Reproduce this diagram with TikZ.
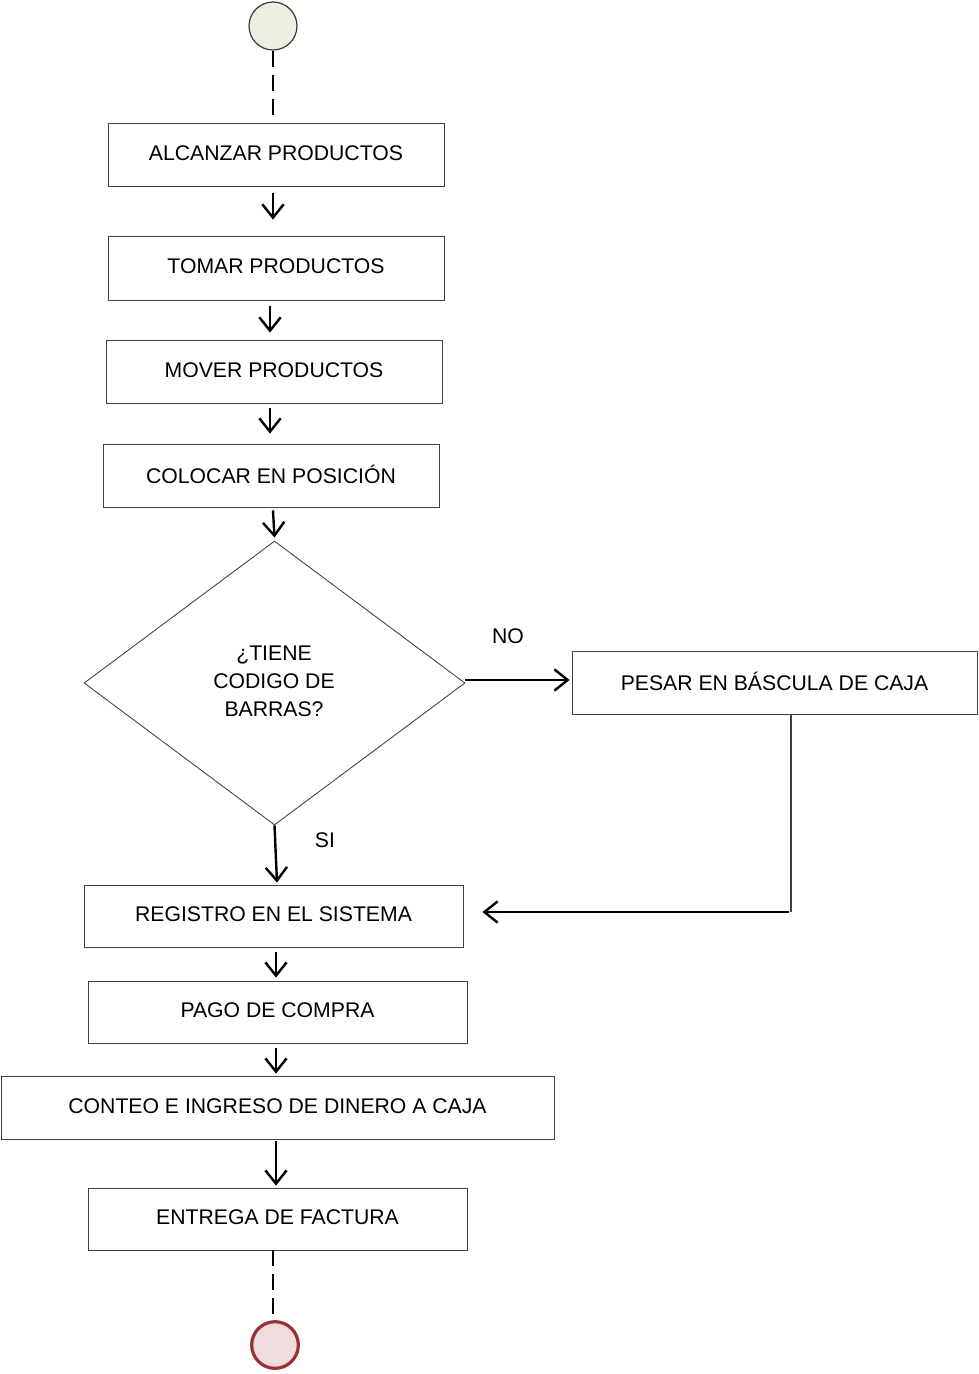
\documentclass[tikz,border=0pt]{standalone}
\usepackage{fontspec}
\setmainfont{Liberation Sans}
\usetikzlibrary{arrows.meta,shapes.geometric}
\definecolor{startfill}{HTML}{EBEFDF}
\definecolor{startline}{HTML}{3A3A3A}
\definecolor{endfill}{HTML}{F0DCDC}
\definecolor{endline}{HTML}{993333}
\definecolor{boxline}{HTML}{404040}
\tikzset{
  stepbox/.style={draw=boxline, line width=0.65pt, rectangle, inner sep=0pt,
    text depth=2.5pt, font=\fontsize{15.9}{21}\selectfont, align=center},
  decision/.style={draw=boxline, line width=0.65pt, diamond, inner sep=0pt,
    font=\fontsize{15.9}{21}\selectfont, align=center},
  arr/.style={draw=black, line width=1.8pt,
    -{Straight Barb[length=10pt,width=16pt,line width=1.8pt]}},
  thinline/.style={draw=boxline, line width=0.9pt},
  dashline/.style={draw=black, line width=1.3pt, dash pattern=on 12pt off 6pt},
  lbl/.style={font=\fontsize{15.9}{21}\selectfont, inner sep=0pt},
}
\begin{document}
\begin{tikzpicture}[x=0.75pt, y=-0.75pt]
  \useasboundingbox (0,0) rectangle (978,1374);

  % start and end states
  \node[circle, draw=startline, line width=0.9pt, fill=startfill,
        minimum size=36pt, inner sep=0pt] (start) at (273,26) {};
  \node[circle, draw=endline, line width=2.4pt, fill=endfill,
        minimum size=35pt, inner sep=0pt] (stop) at (275,1345) {};

  % activities
  \node[stepbox, minimum width=252pt, minimum height=47.25pt] (b1) at (276,154.5) {ALCANZAR PRODUCTOS};
  \node[stepbox, minimum width=252pt, minimum height=48pt]    (b2) at (276,268) {TOMAR PRODUCTOS};
  \node[stepbox, minimum width=252pt, minimum height=47.25pt] (b3) at (274,371.5) {MOVER PRODUCTOS};
  \node[stepbox, minimum width=252pt, minimum height=47.25pt] (b4) at (271,475.5) {COLOCAR EN POSICIÓN};
  \node[decision, minimum width=285.75pt, minimum height=213pt] (dec) at (274.5,683) {};
  \node[lbl, align=center] (dectext) at (274,681) {¿TIENE\\CODIGO DE\\BARRAS?};
  \node[stepbox, minimum width=303.75pt, minimum height=47.25pt] (pesar) at (774.5,682.5) {PESAR EN BÁSCULA DE CAJA};
  \node[stepbox, minimum width=284.25pt, minimum height=46.5pt] (reg) at (273.5,916) {REGISTRO EN EL SISTEMA};
  \node[stepbox, minimum width=284.25pt, minimum height=46.5pt] (pago) at (277.5,1012) {PAGO DE COMPRA};
  \node[stepbox, minimum width=414.75pt, minimum height=47.25pt] (conteo) at (277.5,1107.5) {CONTEO E INGRESO DE DINERO A CAJA};
  \node[stepbox, minimum width=284.25pt, minimum height=46.5pt] (entrega) at (277.5,1219) {ENTREGA DE FACTURA};

  % guard labels
  \node[lbl] (no) at (508,636) {NO};
  \node[lbl] (si) at (325,840) {SI};

  % connectors
  \draw[dashline] (start.south) -- ([shift={(-3,0)}]b1.north);
  \draw[arr] ([shift={(-3,7)}]b1.south) -- ([shift={(-3,-16)}]b2.north);
  \draw[arr] ([shift={(-6,6)}]b2.south) -- ([shift={(-4,-7)}]b3.north);
  \draw[arr] ([shift={(-4,5)}]b3.south) -- ([shift={(-1,-10)}]b4.north);
  \draw[arr] ([shift={(2,3)}]b4.south) -- ([shift={(0,-3)}]dec.north);
  \draw[arr] ([shift={(0,-3)}]dec.east) -- ([shift={(-2,-2.5)}]pesar.west);
  \draw[arr] (dec.south) -- ([shift={(3.5,-2)}]reg.north);
  \coordinate (bend) at (791,912);
  \draw[thinline] ([shift={(16.5,0)}]pesar.south) -- (bend);
  \draw[arr] ([shift={(-2,0)}]bend) -- ([shift={(19,-4)}]reg.east);
  \draw[arr] ([shift={(2.5,5)}]reg.south) -- ([shift={(-1.5,-3)}]pago.north);
  \draw[arr] ([shift={(-1.5,5)}]pago.south) -- ([shift={(-1.5,-2)}]conteo.north);
  \draw[arr] ([shift={(-1.5,2)}]conteo.south) -- ([shift={(-1.5,-2)}]entrega.north);
  \draw[dashline] ([shift={(-4.5,0)}]entrega.south) -- ([shift={(-2,0)}]stop.north);
\end{tikzpicture}
\end{document}
